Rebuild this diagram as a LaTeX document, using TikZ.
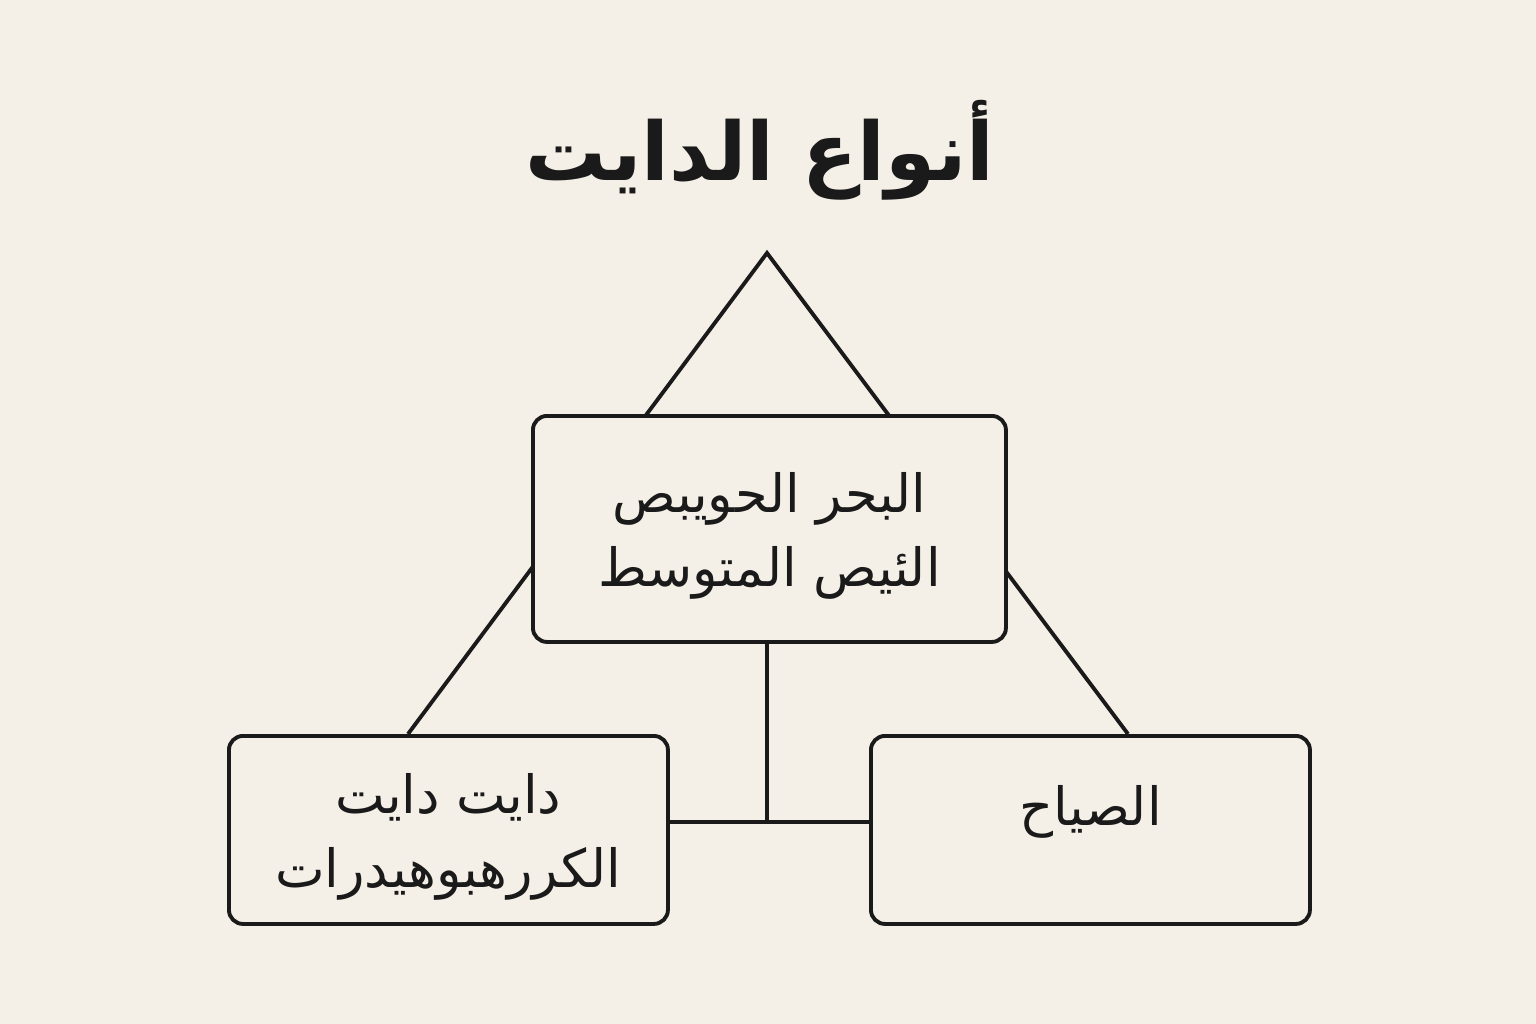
\documentclass[tikz,border=0pt]{standalone}
\usepackage{fontspec}
\TeXXeTstate=1
\newfontfamily\arabicfont[Script=Arabic]{DejaVu Sans}
\definecolor{bg}{HTML}{F5F0E7}
\definecolor{ink}{HTML}{1A1A1A}
\begin{document}
\begin{tikzpicture}[x=0.02cm,y=-0.02cm,
  box/.style={draw=ink,line width=2.2pt,rounded corners=8pt,fill=bg,anchor=north west,inner sep=0pt},
  lbl/.style={font=\arabicfont\fontsize{30}{42}\selectfont,align=center,text=ink},
  ln/.style={draw=ink,line width=2.2pt}]
\fill[bg] (0,0) rectangle (1536,1024);
\node[font=\arabicfont\bfseries\fontsize{46}{50}\selectfont,text=ink] (title) at (760,150) {\beginR أنواع الدايت\endR};
\coordinate (apex) at (767,253);
\coordinate (lt) at (408,734);
\coordinate (rt) at (1128,734);
\draw[ln] (lt) -- (apex) -- (rt);
\node[box,minimum width=473*0.02cm,minimum height=226*0.02cm] (c) at (531,414) {};
\node[box,minimum width=439*0.02cm,minimum height=188*0.02cm] (l) at (227,734) {};
\node[box,minimum width=439*0.02cm,minimum height=188*0.02cm] (r) at (869,734) {};
\coordinate (j) at (767,822);
\draw[ln] (c.south -| j) -- (j);
\draw[ln] (l.east |- j) -- (r.west |- j);
\node[lbl] at ([yshift=-4]c.center) {\beginR البحر الحويبص\endR\\\beginR الئيص المتوسط\endR};
\node[lbl] at ([yshift=-4]l.center) {\beginR دايت دايت\endR\\\beginR الكررهبوهيدرات\endR};
\node[lbl] at ([yshift=10]r.center) {\beginR الصياح\endR};
\end{tikzpicture}
\end{document}
